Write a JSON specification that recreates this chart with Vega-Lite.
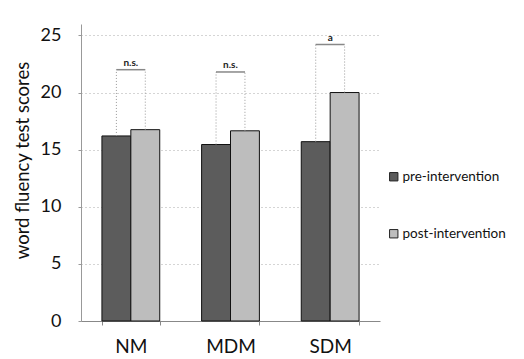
{
  "$schema": "https://vega.github.io/schema/vega-lite/v6.json",
  "autosize": "none",
  "width": 299,
  "height": 297,
  "padding": {"left": 81, "top": 24, "right": 144, "bottom": 38},
  "background": "white",
  "config": {"font": "Lato", "view": {"stroke": null}},
  "datasets": {
    "bars": [
      {"group": "NM", "series": "pre-intervention", "value": 16.2, "bracket": 22.0},
      {"group": "NM", "series": "post-intervention", "value": 16.75, "bracket": 22.0},
      {"group": "MDM", "series": "pre-intervention", "value": 15.45, "bracket": 21.8},
      {"group": "MDM", "series": "post-intervention", "value": 16.65, "bracket": 21.8},
      {"group": "SDM", "series": "pre-intervention", "value": 15.7, "bracket": 24.2},
      {"group": "SDM", "series": "post-intervention", "value": 20.0, "bracket": 24.2}
    ],
    "notes": [
      {"group": "NM", "bracket": 22.0, "label": "n.s."},
      {"group": "MDM", "bracket": 21.8, "label": "n.s."},
      {"group": "SDM", "bracket": 24.2, "label": "a"}
    ]
  },
  "encoding": {
    "x": {
      "field": "group", "type": "nominal", "sort": ["NM", "MDM", "SDM"],
      "scale": {"paddingInner": 0.42, "paddingOuter": 0.21},
      "axis": {
        "title": null, "labelAngle": 0, "labelFontSize": 19, "labelColor": "#111",
        "labelPadding": 12, "domainColor": "#888", "tickColor": "#888", "tickSize": 4,
        "tickBand": "extent", "grid": false
      }
    }
  },
  "layer": [
    {
      "data": {"name": "bars"},
      "mark": {"type": "bar", "stroke": "#111", "strokeWidth": 1},
      "encoding": {
        "xOffset": {"field": "series", "type": "nominal", "sort": ["pre-intervention", "post-intervention"]},
        "y": {
          "field": "value", "type": "quantitative",
          "scale": {"domain": [0, 25]},
          "axis": {
            "title": "word fluency test scores", "titleFontSize": 18.5, "titleFontWeight": "normal",
            "titleColor": "#111", "titlePadding": 8, "titleY": 136,
            "values": [0, 5, 10, 15, 20, 25], "labelFontSize": 18, "labelColor": "#111",
            "labelPadding": 17, "tickSize": 3, "tickColor": "#999", "domainColor": "#999",
            "gridColor": "#aaa", "gridDash": [1, 3]
          }
        },
        "color": {
          "field": "series", "type": "nominal",
          "sort": ["pre-intervention", "post-intervention"],
          "scale": {"range": ["#5c5c5c", "#bdbdbd"]},
          "legend": {
            "title": null, "orient": "none", "legendX": 306, "legendY": 146,
            "symbolType": "square", "symbolSize": 70, "symbolStrokeColor": "#222",
            "symbolStrokeWidth": 1, "labelFontSize": 13.5, "labelColor": "#111",
            "rowPadding": 42, "labelOffset": 2
          }
        }
      }
    },
    {
      "data": {"name": "bars"},
      "mark": {"type": "rule", "color": "#999", "strokeDash": [1, 2], "strokeWidth": 1},
      "encoding": {
        "xOffset": {"field": "series", "type": "nominal", "sort": ["pre-intervention", "post-intervention"]},
        "y": {"field": "value", "type": "quantitative"},
        "y2": {"field": "bracket"}
      }
    },
    {
      "data": {"name": "notes"},
      "mark": {"type": "tick", "orient": "horizontal", "size": 29, "thickness": 1.5, "color": "#555"},
      "encoding": {
        "y": {"field": "bracket", "type": "quantitative"}
      }
    },
    {
      "data": {"name": "notes"},
      "mark": {"type": "text", "dy": -7, "fontSize": 10, "fontWeight": "bold", "color": "#222"},
      "encoding": {
        "y": {"field": "bracket", "type": "quantitative"},
        "text": {"field": "label"}
      }
    }
  ]
}
